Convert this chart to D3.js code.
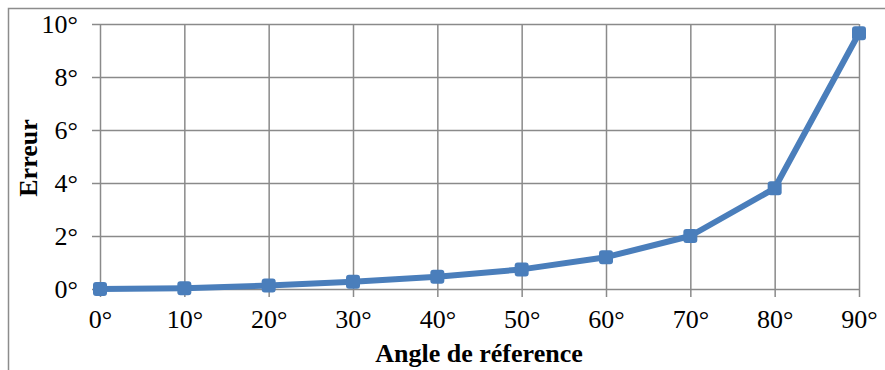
<!DOCTYPE html>
<html><head><meta charset="utf-8">
<script src="https://cdn.jsdelivr.net/npm/d3@7"></script>
<style>body{margin:0;background:#fff}svg{display:block}</style>
</head><body>
<script>
const angles = [0, 10, 20, 30, 40, 50, 60, 70, 80, 90];
const errors = [0, 0.03, 0.13, 0.27, 0.46, 0.74, 1.2, 2.0, 3.8, 9.65];
const yTicks = [0, 2, 4, 6, 8, 10];
const xTitle = "Angle de réference";
const yTitle = "Erreur";

const W = 885, H = 370;
const svg = d3.select("body").append("svg").attr("width", W).attr("height", H);
const font = "'Liberation Serif', 'Times New Roman', serif";
const fs = 26;

// outer frame
svg.append("path").attr("d", "M8.5,370 V8.5 H885").attr("fill", "none")
  .attr("stroke", "#8c8c8c").attr("stroke-width", 1.5);

const x = d3.scaleLinear().domain([0, 90]).range([100, 859]);
const y = d3.scaleLinear().domain([0, 10]).range([289, 24]);
const grid = "#8a8a8a";

// horizontal gridlines + y ticks
const yAxis = d3.axisLeft(y).tickValues(yTicks).tickSize(8).tickFormat(d => d + "°");
const gy = svg.append("g").attr("transform", "translate(100,0)").call(yAxis);
gy.select(".domain").remove();
gy.selectAll(".tick line").attr("stroke", grid).attr("stroke-width", 1.5);
gy.selectAll(".tick").append("line").attr("x1", 0).attr("x2", 759)
  .attr("stroke", grid).attr("stroke-width", 1.5);
gy.selectAll(".tick text").attr("x", -22).attr("dy", "0.32em")
  .attr("font-family", font).attr("font-size", fs).attr("fill", "#000");

// vertical gridlines + x ticks
const xAxis = d3.axisBottom(x).tickValues(angles).tickSize(8).tickFormat(d => d + "°");
const gx = svg.append("g").attr("transform", "translate(0,289)").call(xAxis);
gx.select(".domain").remove();
gx.selectAll(".tick line").attr("stroke", grid).attr("stroke-width", 1.5);
gx.selectAll(".tick").append("line").attr("y1", 0).attr("y2", -265)
  .attr("stroke", grid).attr("stroke-width", 1.5);
gx.selectAll(".tick text").attr("y", 39).attr("dy", 0)
  .attr("font-family", font).attr("font-size", fs).attr("fill", "#000");

// line
const data = angles.map((a, i) => ({a, e: errors[i]}));
const blue = "#4a7ebb";
svg.append("path").datum(data)
  .attr("d", d3.line().x(d => x(d.a)).y(d => y(d.e)))
  .attr("fill", "none").attr("stroke", blue).attr("stroke-width", 6)
  .attr("stroke-linejoin", "round");
svg.selectAll("rect.m").data(data).enter().append("rect").attr("class", "m")
  .attr("x", d => x(d.a) - 7).attr("y", d => y(d.e) - 7)
  .attr("width", 14).attr("height", 14).attr("rx", 3)
  .attr("fill", blue);

// titles
svg.append("text").attr("x", 479).attr("y", 362).attr("text-anchor", "middle")
  .attr("font-family", font).attr("font-size", fs).attr("font-weight", "bold")
  .text(xTitle);
svg.append("text").attr("transform", "translate(37,158) rotate(-90)")
  .attr("text-anchor", "middle")
  .attr("font-family", font).attr("font-size", fs).attr("font-weight", "bold")
  .text(yTitle);
</script>
</body></html>
